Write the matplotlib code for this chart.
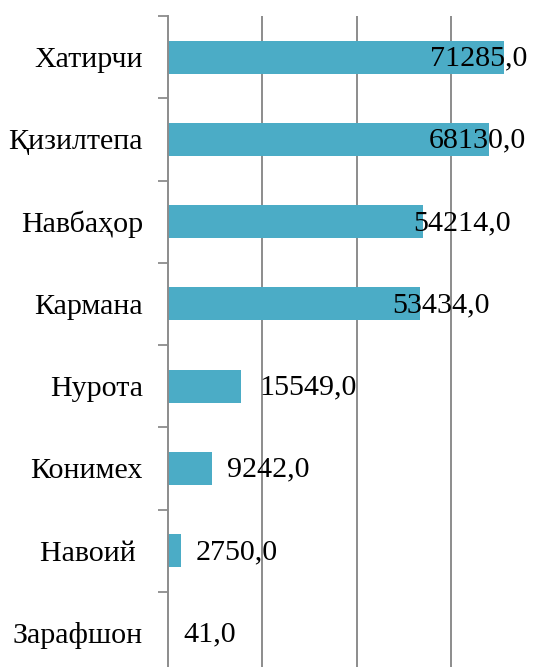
import numpy as np
import matplotlib
matplotlib.use('Agg')
import matplotlib.pyplot as plt

# data (top to bottom as in the chart)
districts = ['Хатирчи', 'Қизилтепа', 'Навбаҳор', 'Кармана', 'Нурота', 'Конимех', 'Навоий ', 'Зарафшон']
values = [71285, 68130, 54214, 53434, 15549, 9242, 2750, 41]

# label shift from bar end, in pixels (labels were placed by hand in the original)
label_shift = [-74, -60, -10, -28, 18, 15, 15, 15]

plt.rcParams['font.family'] = ['Liberation Serif', 'DejaVu Serif']

fig = plt.figure(figsize=(5.41, 6.67), dpi=100)
# axes run past the bottom and right edges, as in the cropped original
ax = fig.add_axes([168/541, 1 - 674/667, 377/541, 658/667])

y = np.arange(len(districts))
ax.barh(y, values, height=0.4, color='#4BACC6', zorder=2)

for i in range(len(values)):
    ax.annotate('%d,0' % values[i], xy=(values[i], y[i]),
                xytext=(label_shift[i]*0.72, -1), textcoords='offset points',
                ha='left', va='center', fontsize=21.6, color='black', zorder=3)

ax.set_ylim(len(districts) - 0.5, -0.5)
ax.set_xlim(0, 80000)
ax.set_xticks([20000, 40000, 60000, 80000])
ax.set_xticklabels([])
ax.tick_params(axis='x', length=0)
ax.grid(axis='x', color='#8c8c8c', linewidth=1.4, zorder=0)

ax.set_yticks(y)
ax.set_yticklabels(districts, fontsize=21.6, va='center_baseline')
ax.set_yticks(np.arange(len(districts) + 1) - 0.5, minor=True)
ax.tick_params(axis='y', which='major', length=0, pad=18)
ax.tick_params(axis='y', which='minor', length=7, width=1.3, color='#8c8c8c')

for s in ['top', 'right', 'bottom']:
    ax.spines[s].set_visible(False)
ax.spines['left'].set_color('#8c8c8c')
ax.spines['left'].set_linewidth(1.4)

fig.savefig('out.png', dpi=100)
